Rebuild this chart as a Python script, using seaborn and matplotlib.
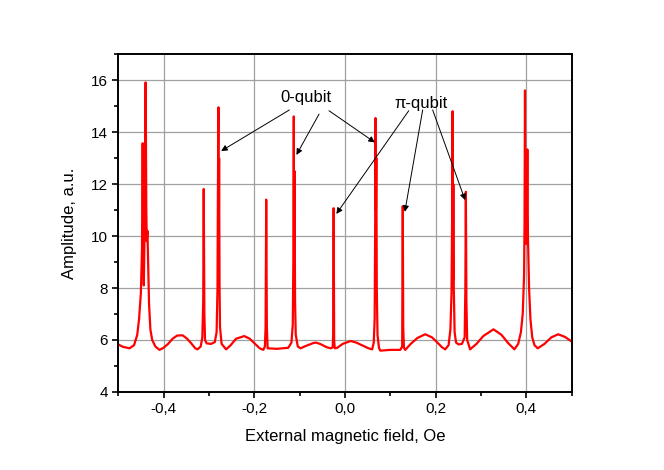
import pandas as pd
import seaborn as sns
import matplotlib
matplotlib.use("Agg")
import matplotlib.pyplot as plt
from matplotlib.ticker import FuncFormatter, MultipleLocator

field = [
    -0.500, -0.490, -0.475, -0.465, -0.458, -0.454, -0.450, -0.4475, -0.4460, -0.4450,
    -0.4435, -0.4420, -0.4395, -0.4380, -0.4370, -0.4355, -0.4340, -0.4320, -0.4290, -0.4250,
    -0.4180, -0.4090, -0.4000, -0.3900, -0.3800, -0.3700, -0.3580, -0.3480, -0.3380, -0.3300,
    -0.3250, -0.3180, -0.3145, -0.3125, -0.3114, -0.3100, -0.3085, -0.3050, -0.2950, -0.2870,
    -0.2830, -0.2810, -0.2800, -0.2790, -0.2785, -0.2775, -0.2765, -0.2755, -0.2720, -0.2620,
    -0.2520, -0.2400, -0.2220, -0.2100, -0.1980, -0.1880, -0.1800, -0.1765, -0.1750, -0.1736,
    -0.1722, -0.1705, -0.1500, -0.1250, -0.1180, -0.1150, -0.1138, -0.1128, -0.1120, -0.1112,
    -0.1100, -0.1085, -0.1040, -0.0980, -0.0850, -0.0700, -0.0640, -0.0550, -0.0400, -0.0310,
    -0.0270, -0.0260, -0.0249, -0.0238, -0.0225, -0.0170, -0.0050, 0.0125, 0.0250, 0.0400,
    0.0520, 0.0600, 0.0635, 0.0655, 0.0667, 0.0675, 0.0683, 0.0692, 0.0702, 0.0718,
    0.0750, 0.0780, 0.1000, 0.1220, 0.1262, 0.1268, 0.1275, 0.1285, 0.1300, 0.1330,
    0.1450, 0.1600, 0.1770, 0.1920, 0.2050, 0.2140, 0.2210, 0.2285, 0.2325, 0.2350,
    0.2365, 0.2374, 0.2382, 0.2390, 0.2400, 0.2418, 0.2450, 0.2505, 0.2580, 0.2640,
    0.2655, 0.2666, 0.2678, 0.2695, 0.2760, 0.2900, 0.3050, 0.3275, 0.3450, 0.3600,
    0.3736, 0.3820, 0.3880, 0.3920, 0.3950, 0.3960, 0.3970, 0.3980, 0.3995, 0.4010,
    0.4022, 0.4035, 0.4060, 0.4090, 0.4130, 0.4180, 0.4250, 0.4400, 0.4550, 0.4700,
    0.4850, 0.5000,
]
amplitude = [
    5.83, 5.74, 5.68, 5.80, 6.20, 6.80, 7.80, 9.50, 13.57, 10.50,
    8.10, 10.00, 15.91, 11.00, 9.80, 10.20, 9.00, 7.40, 6.40, 6.00,
    5.75, 5.62, 5.70, 5.85, 6.05, 6.17, 6.18, 6.05, 5.85, 5.68,
    5.64, 5.75, 6.10, 7.50, 11.81, 7.00, 6.00, 5.87, 5.85, 5.92,
    6.30, 8.00, 12.00, 14.95, 8.60, 13.00, 8.00, 6.50, 5.85, 5.64,
    5.80, 6.05, 6.15, 6.05, 5.85, 5.68, 5.62, 5.75, 6.50, 11.40,
    6.50, 5.68, 5.66, 5.70, 5.90, 6.60, 9.00, 14.60, 8.50, 12.50,
    7.50, 6.20, 5.75, 5.68, 5.78, 5.88, 5.90, 5.85, 5.72, 5.68,
    5.72, 6.20, 11.07, 6.00, 5.68, 5.70, 5.85, 5.96, 5.90, 5.78,
    5.68, 5.64, 5.90, 6.80, 10.50, 14.54, 11.00, 13.00, 8.00, 6.20,
    5.70, 5.59, 5.62, 5.62, 5.75, 8.00, 11.15, 6.50, 5.70, 5.62,
    5.85, 6.08, 6.22, 6.10, 5.88, 5.72, 5.64, 5.80, 6.40, 7.80,
    11.00, 14.80, 8.30, 12.00, 8.00, 6.30, 5.90, 5.83, 5.85, 6.10,
    8.00, 11.70, 7.50, 6.00, 5.64, 5.85, 6.15, 6.41, 6.20, 5.88,
    5.64, 5.85, 6.30, 7.00, 8.50, 10.50, 15.60, 11.50, 9.70, 10.50,
    13.33, 10.00, 8.00, 6.80, 6.10, 5.80, 5.68, 5.85, 6.10, 6.22,
    6.12, 5.94,
]

# Annotation labels, label anchors and arrow targets (data coords)
labels = ['0-qubit', 'π-qubit']
label_pos = [(-0.086, 15.31), (0.168, 15.10)]
zero_tails = [(-0.1225, 14.85), (-0.0571, 14.69), (-0.0352, 14.82)]
zero_heads = [(-0.273, 13.27), (-0.107, 13.12), (0.066, 13.60)]
pi_tails = [(0.1407, 14.82), (0.1714, 14.85), (0.1934, 14.85)]
pi_heads = [(-0.019, 10.85), (0.132, 10.93), (0.265, 11.38)]

df = pd.DataFrame({'field': field, 'amplitude': amplitude})

sns.set_style('ticks')
plt.rcParams['font.family'] = ['Liberation Sans', 'DejaVu Sans']
plt.rcParams['text.color'] = 'black'
plt.rcParams['axes.labelcolor'] = 'black'

fig = plt.figure(figsize=(6.64, 4.70), dpi=100)
ax = fig.add_axes([0.178, 0.166, 0.683, 0.719])

sns.lineplot(data=df, x='field', y='amplitude', color='#ff0000', lw=1.6,
             estimator=None, sort=False, ax=ax)

ax.set_xlim(-0.5, 0.5)
ax.set_ylim(4, 17)
ax.xaxis.set_major_locator(MultipleLocator(0.2))
ax.xaxis.set_minor_locator(MultipleLocator(0.1))
ax.yaxis.set_major_locator(MultipleLocator(2))
ax.yaxis.set_minor_locator(MultipleLocator(1))
ax.xaxis.set_major_formatter(FuncFormatter(lambda v, p: f'{v:.1f}'.replace('.', ',').replace('−', '-')))
ax.yaxis.set_major_formatter(FuncFormatter(lambda v, p: f'{v:.0f}'))

ax.grid(True, which='major', color='#a0a0a0', lw=0.9)
ax.set_axisbelow(True)
for s in ax.spines.values():
    s.set_visible(True)
    s.set_color('black')
    s.set_linewidth(1.4)
ax.tick_params(which='major', direction='out', length=4.5, width=1.2, labelsize=11, pad=3,
               colors='black', top=False, right=False)
ax.tick_params(which='minor', direction='out', length=3, width=1.2, colors='black',
               top=False, right=False)

ax.set_xlabel('External magnetic field, Oe', fontsize=12, labelpad=9)
ax.set_ylabel('Amplitude, a.u.', fontsize=12, labelpad=10)

# Text labels with arrows pointing to the peaks
for txt, pos in zip(labels, label_pos):
    ax.text(pos[0], pos[1], txt, fontsize=12, ha='center', va='center', color='black')
for tails, heads in [(zero_tails, zero_heads), (pi_tails, pi_heads)]:
    for t, h in zip(tails, heads):
        ax.annotate('', xy=h, xytext=t,
                    arrowprops=dict(arrowstyle='-|>', color='black', lw=0.7,
                                    mutation_scale=9, shrinkA=0, shrinkB=0))

plt.savefig('out.png', dpi=100)
